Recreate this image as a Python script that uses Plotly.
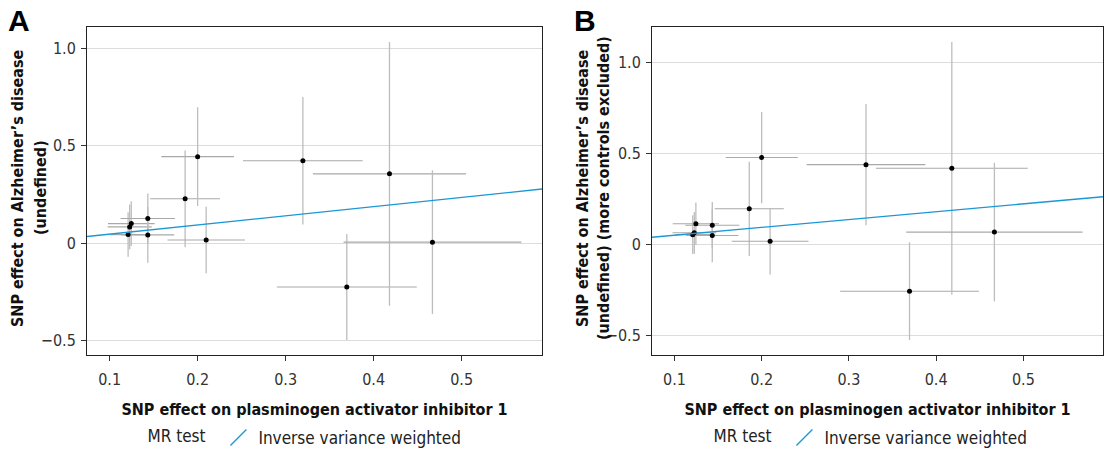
import plotly.graph_objects as go

# ---- data ----
snp_exposure = [0.121, 0.1228, 0.1246, 0.1434, 0.1434, 0.1858, 0.2000, 0.2097, 0.3196, 0.3695, 0.4180, 0.4668]
se_exposure = [0.020, 0.025, 0.0265, 0.031, 0.030, 0.0396, 0.0413, 0.044, 0.068, 0.0795, 0.087, 0.101]

outcome_A = [0.0446, 0.084, 0.101, 0.127, 0.043, 0.228, 0.444, 0.017, 0.423, -0.224, 0.356, 0.006]
se_outcome_A = [0.114, 0.115, 0.115, 0.128, 0.143, 0.248, 0.253, 0.170, 0.327, 0.272, 0.676, 0.368]

outcome_B = [0.052, 0.062, 0.112, 0.104, 0.047, 0.194, 0.476, 0.016, 0.437, -0.259, 0.417, 0.066]
se_outcome_B = [0.106, 0.115, 0.117, 0.127, 0.147, 0.259, 0.251, 0.183, 0.333, 0.269, 0.695, 0.381]

ivw_slope = {"A": 0.470, "B": 0.430}
ivw_intercept = {"A": 0.0, "B": 0.006}

x_ticks = [0.1, 0.2, 0.3, 0.4, 0.5]
x_ticklabels = ["0.1", "0.2", "0.3", "0.4", "0.5"]
y_ticks = [-0.5, 0, 0.5, 1.0]
y_ticklabels = ["\u22120.5", "0", "0.5", "1.0"]

x_title = "SNP effect on plasminogen activator inhibitor 1"
y_title_A = ["SNP effect on Alzheimer\u2019s disease", "(undefined)"]
y_title_B = ["SNP effect on Alzheimer\u2019s disease", "(undefined) (more controls excluded)"]
method_name = "Inverse variance weighted"

FONT = "DejaVu Sans Condensed, Liberation Sans Narrow, Open Sans, sans-serif"
BLUE = "#1a97d5"
GRID = "#dcdcdc"
W, H = 1105, 450


def expand(lo, hi, f=0.05):
    r = hi - lo
    return [lo - f * r, hi + f * r]


xr = expand(min(a - b for a, b in zip(snp_exposure, se_exposure)),
            max(a + b for a, b in zip(snp_exposure, se_exposure)))

fig = go.Figure()

panels = [
    ("A", outcome_A, se_outcome_A, "x", "y", "legend"),
    ("B", outcome_B, se_outcome_B, "x2", "y2", "legend2"),
]

for name, yv, se, xa, ya, lg in panels:
    fig.add_trace(go.Scatter(
        x=snp_exposure, y=yv, mode="markers",
        marker=dict(color="black", size=5),
        error_x=dict(type="data", array=se_exposure, color="#a9a9a9", thickness=1.1, width=0),
        error_y=dict(type="data", array=se, color="#bdbdbd", thickness=1.3, width=0),
        xaxis=xa, yaxis=ya, showlegend=False, hoverinfo="skip"))
    fig.add_trace(go.Scatter(
        x=xr, y=[ivw_intercept[name] + ivw_slope[name] * v for v in xr],
        mode="lines", line=dict(color=BLUE, width=1.4),
        xaxis=xa, yaxis=ya, showlegend=False, hoverinfo="skip"))
    # legend key (diagonal line like ggplot abline key)
    fig.add_trace(go.Scatter(
        x=[None], y=[None], mode="markers", name=method_name,
        marker=dict(symbol="line-ne", size=16, color=BLUE, line=dict(color=BLUE, width=1.3)),
        xaxis=xa, yaxis=ya, legend=lg, showlegend=True))

axis_common = dict(showline=True, linecolor="#222", linewidth=1, mirror=True,
                   ticks="outside", ticklen=5, tickcolor="#333", tickwidth=1,
                   zeroline=False, automargin=False,
                   tickfont=dict(family=FONT, size=16, color="#333"))

yrA = expand(min(a - b for a, b in zip(outcome_A, se_outcome_A)),
             max(a + b for a, b in zip(outcome_A, se_outcome_A)))
yrB = expand(min(a - b for a, b in zip(outcome_B, se_outcome_B)),
             max(a + b for a, b in zip(outcome_B, se_outcome_B)))

title_font = dict(family=FONT, size=16, color="#111", weight="bold")
legend_font = dict(family=FONT, size=17, color="#222")

annotations = [
    dict(text="<b>A</b>", x=6 / W, y=1 - 2 / H, xref="paper", yref="paper", xanchor="left",
         yanchor="top", showarrow=False, font=dict(family="Liberation Sans, Arial", size=30, color="black")),
    dict(text="<b>B</b>", x=572 / W, y=1 - 2 / H, xref="paper", yref="paper", xanchor="left",
         yanchor="top", showarrow=False, font=dict(family="Liberation Sans, Arial", size=30, color="black")),
]
for lines, xs in ((y_title_A, (17, 40)), (y_title_B, (582, 603))):
    for txt, xc in zip(lines, xs):
        annotations.append(dict(text=txt, x=xc / W, y=1 - 188 / H, xref="paper", yref="paper",
                                xanchor="center", yanchor="middle", textangle=-90, showarrow=False,
                                font=title_font))

fig.update_layout(
    width=W, height=H, margin=dict(l=0, r=0, t=0, b=0, autoexpand=False),
    plot_bgcolor="white", paper_bgcolor="white",
    xaxis=dict(domain=[87 / W, 542 / W], range=xr, tickvals=x_ticks, ticktext=x_ticklabels,
               showgrid=False, anchor="y", ticklabelstandoff=5,
               title=dict(text=x_title, font=title_font, standoff=15), **axis_common),
    yaxis=dict(domain=[1 - 355 / H, 1 - 27 / H], range=yrA, tickvals=y_ticks, ticktext=y_ticklabels,
               showgrid=True, gridcolor=GRID, gridwidth=1.2, anchor="x", ticklabelstandoff=2,
               **axis_common),
    xaxis2=dict(domain=[652 / W, 1103 / W], range=xr, tickvals=x_ticks, ticktext=x_ticklabels,
                showgrid=False, anchor="y2", ticklabelstandoff=5,
                title=dict(text=x_title, font=title_font, standoff=15), **axis_common),
    yaxis2=dict(domain=[1 - 355 / H, 1 - 27 / H], range=yrB, tickvals=y_ticks, ticktext=y_ticklabels,
                showgrid=True, gridcolor=GRID, gridwidth=1.2, anchor="x2", ticklabelstandoff=2,
                **axis_common),
    legend=dict(orientation="h", x=306 / W, xanchor="center", y=1 - 438 / H, yanchor="middle",
                title=dict(text="MR test ", side="left", font=legend_font),
                font=legend_font, bgcolor="rgba(0,0,0,0)"),
    legend2=dict(orientation="h", x=872 / W, xanchor="center", y=1 - 438 / H, yanchor="middle",
                 title=dict(text="MR test ", side="left", font=legend_font),
                 font=legend_font, bgcolor="rgba(0,0,0,0)"),
    annotations=annotations,
)

fig.write_html("out.html")
